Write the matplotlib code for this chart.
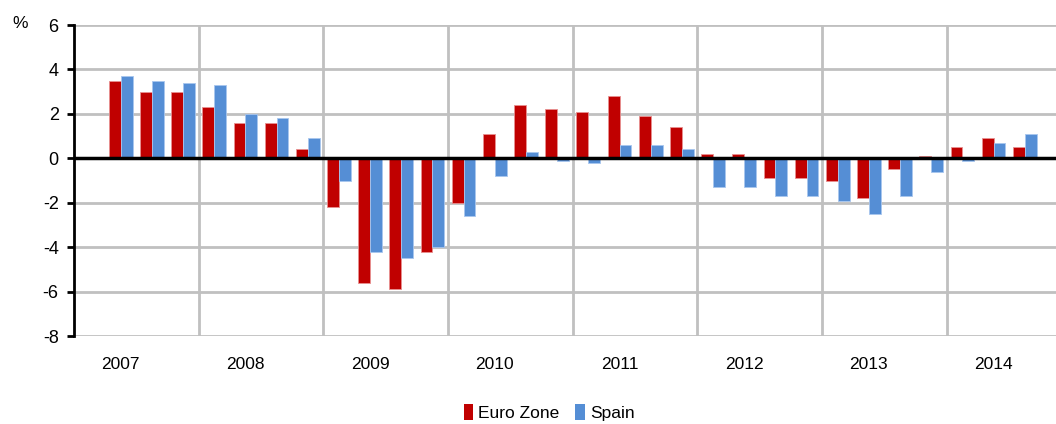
import numpy as np
import matplotlib
matplotlib.use('Agg')
import matplotlib.pyplot as plt
from matplotlib.patches import Patch

plt.rcParams['font.family'] = ['Liberation Sans', 'DejaVu Sans']

# quarterly GDP growth, % year on year
years = ['2007', '2008', '2009', '2010', '2011', '2012', '2013', '2014']
euro_zone = [3.5, 3.0, 3.0, 2.3, 1.6, 1.6, 0.4, -2.2, -5.6, -5.9,
             -4.2, -2.0, 1.1, 2.4, 2.2, 2.1, 2.8, 1.9, 1.4, 0.2,
             0.2, -0.9, -0.9, -1.0, -1.8, -0.5, 0.1, 0.5, 0.9, 0.5]
spain = [3.7, 3.5, 3.4, 3.3, 2.0, 1.8, 0.9, -1.0, -4.2, -4.5,
         -4.0, -2.6, -0.8, 0.3, -0.1, -0.2, 0.6, 0.6, 0.4, -1.3,
         -1.3, -1.7, -1.7, -1.9, -2.5, -1.7, -0.6, -0.1, 0.7, 1.1]

red = '#C00000'
blue = '#558ED5'

fig = plt.figure(figsize=(10.56, 4.24), dpi=100)
ax = fig.add_axes([0.070, 0.2075, 0.930, 0.7335])

x = np.arange(len(euro_zone))
w = 0.38
ax.bar(x - w / 2, euro_zone, width=w, color=red, edgecolor='#E89090',
       linewidth=0.6, zorder=3)
ax.bar(x + w / 2, spain, width=w, color=blue, edgecolor='#A8C6EE',
       linewidth=0.6, zorder=3)

ax.axhline(0, color='black', lw=2.5, zorder=4)

ax.set_xlim(-1.5, 30.0)
ax.set_ylim(-8, 6)
ax.set_yticks(np.arange(-8, 7, 2))
ax.set_yticklabels([str(v) for v in range(-8, 7, 2)], fontsize=13)

# year labels every 4 quarters, gridlines between
ax.set_xticks(x[::4])
ax.set_xticklabels(years, fontsize=12.5)
ax.set_xticks(np.arange(2.5, 30, 4), minor=True)
ax.tick_params(axis='x', which='both', length=0, pad=15)
ax.tick_params(axis='y', length=5, width=2, color='black', pad=6)

ax.grid(axis='y', which='major', color='#C0C0C0', lw=2, zorder=0)
ax.grid(axis='x', which='minor', color='#C0C0C0', lw=2, zorder=0)

for side in ['top', 'right', 'bottom']:
    ax.spines[side].set_visible(False)
ax.spines['left'].set_linewidth(2)
ax.spines['left'].set_zorder(5)

fig.text(0.012, 0.945, '%', fontsize=12.5, va='center')

handles = [Patch(facecolor=red, edgecolor='none', label='Euro Zone'),
           Patch(facecolor=blue, edgecolor='none', label='Spain')]
fig.legend(handles=handles, loc='center', bbox_to_anchor=(0.52, 0.028),
           ncol=2, frameon=False, fontsize=12.5, handlelength=0.55,
           handleheight=1.1, handletextpad=0.3, columnspacing=0.9)

fig.savefig('out.png', dpi=100)
